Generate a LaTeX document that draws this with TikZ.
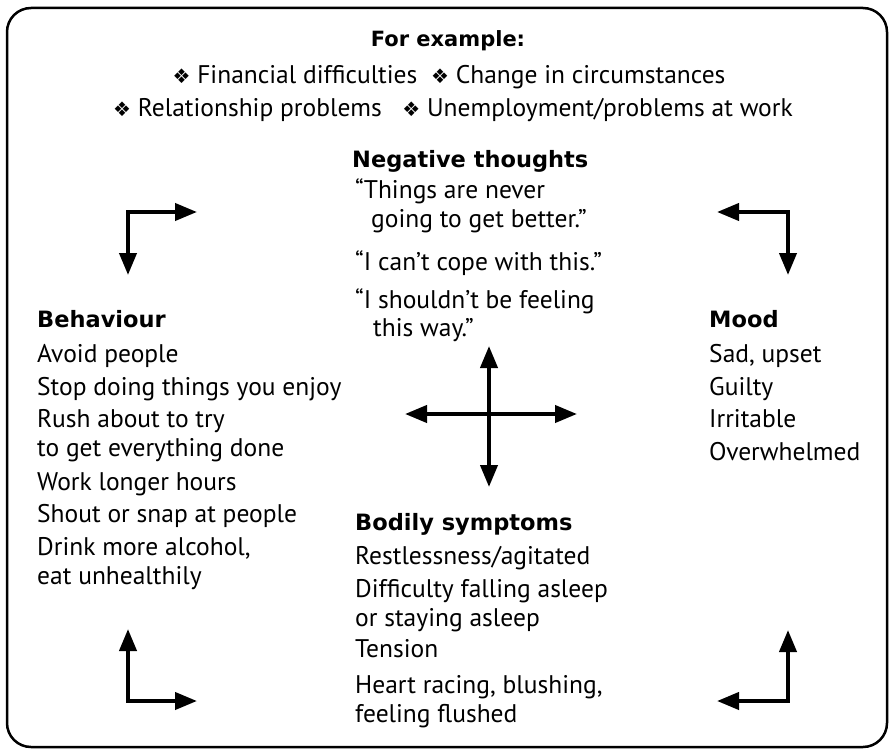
\documentclass[tikz,border=0pt]{standalone}
\usepackage{fontspec}
\setmainfont{PT Sans}
\newfontfamily\headfont{DejaVu Sans}
\newfontfamily\symfont{DejaVu Sans}
\usetikzlibrary{arrows.meta}
\newcommand{\dmd}{{\symfont\fontsize{20}{20}\selectfont ❖}}
\begin{document}
\begin{tikzpicture}[x=1pt,y=-1pt,
  txt/.style={anchor=base west, inner sep=0pt, font=\fontsize{25.5}{28}\selectfont},
  ctr/.style={anchor=base, inner sep=0pt, font=\fontsize{25.5}{28}\selectfont},
  head/.style={anchor=base west, inner sep=0pt, font=\headfont\bfseries\fontsize{22.5}{28}\selectfont},
  arr/.style={line width=4pt, line join=miter, {Triangle[length=22pt,width=17pt]}-{Triangle[length=22pt,width=17pt]}}]
\useasboundingbox (0,0) rectangle (894,754);
\draw[line width=2.5pt, rounded corners=24pt] (7,8) rectangle (887,747);
% top
\node[anchor=base, inner sep=0pt, font=\headfont\bfseries\fontsize{21}{28}\selectfont] (fe) at (448,47) {For example:};
\node[ctr] (ex1) at (449,84) {\dmd\ Financial difficulties \ \dmd\ Change in circumstances};
\node[ctr] (ex2) at (453,117) {\dmd\ Relationship problems \ \ \dmd\ Unemployment/problems at work};
% negative thoughts
\node[head] (nth) at (352,168) {Negative thoughts};
\node[txt] (n1) at (355,199) {“Things are never};
\node[txt] (n2) at (371,228) {going to get better.”};
\node[txt] (n3) at (355,270) {“I can’t cope with this.”};
\node[txt] (n4) at (355,308) {“I shouldn’t be feeling};
\node[txt] (n5) at (373,336) {this way.”};
% behaviour
\node[head] (bh) at (37,327) {Behaviour};
\node[txt] (b1) at (37,362) {Avoid people};
\node[txt] (b2) at (37,395) {Stop doing things you enjoy};
\node[txt] (b3) at (37,427) {Rush about to try};
\node[txt] (b4) at (37,456) {to get everything done};
\node[txt] (b5) at (37,490) {Work longer hours};
\node[txt] (b6) at (37,522) {Shout or snap at people};
\node[txt] (b7) at (37,555) {Drink more alcohol,};
\node[txt] (b8) at (37,584) {eat unhealthily};
% mood
\node[head] (md) at (709,327) {Mood};
\node[txt] (m1) at (709,362) {Sad, upset};
\node[txt] (m2) at (709,395) {Guilty};
\node[txt] (m3) at (709,427) {Irritable};
\node[txt] (m4) at (709,460) {Overwhelmed};
% bodily
\node[head] (bd) at (355,530) {Bodily symptoms};
\node[txt] (s1) at (355,564) {Restlessness/agitated};
\node[txt] (s2) at (355,597) {Difficulty falling asleep};
\node[txt] (s3) at (355,626) {or staying asleep};
\node[txt] (s4) at (355,657) {Tension};
\node[txt] (s5) at (355,693) {Heart racing, blushing,};
\node[txt] (s6) at (355,722) {feeling flushed};
% arrow coordinates
\coordinate (tlA) at (128,275); \coordinate (tlB) at (197,212);
\coordinate (trA) at (717,212); \coordinate (trB) at (788,275);
\coordinate (blA) at (128,629); \coordinate (blB) at (197,701);
\coordinate (brA) at (717,701); \coordinate (brB) at (788,630);
\coordinate (cT) at (489,346); \coordinate (cB) at (489,487);
\coordinate (cL) at (405,414); \coordinate (cR) at (577,414);
\draw[arr] (tlA) |- (tlB);
\draw[arr] (trA) -| (trB);
\draw[arr] (blA) |- (blB);
\draw[arr] (brA) -| (brB);
\draw[arr] (cT) -- (cB);
\draw[arr] (cL) -- (cR);
\end{tikzpicture}
\end{document}
